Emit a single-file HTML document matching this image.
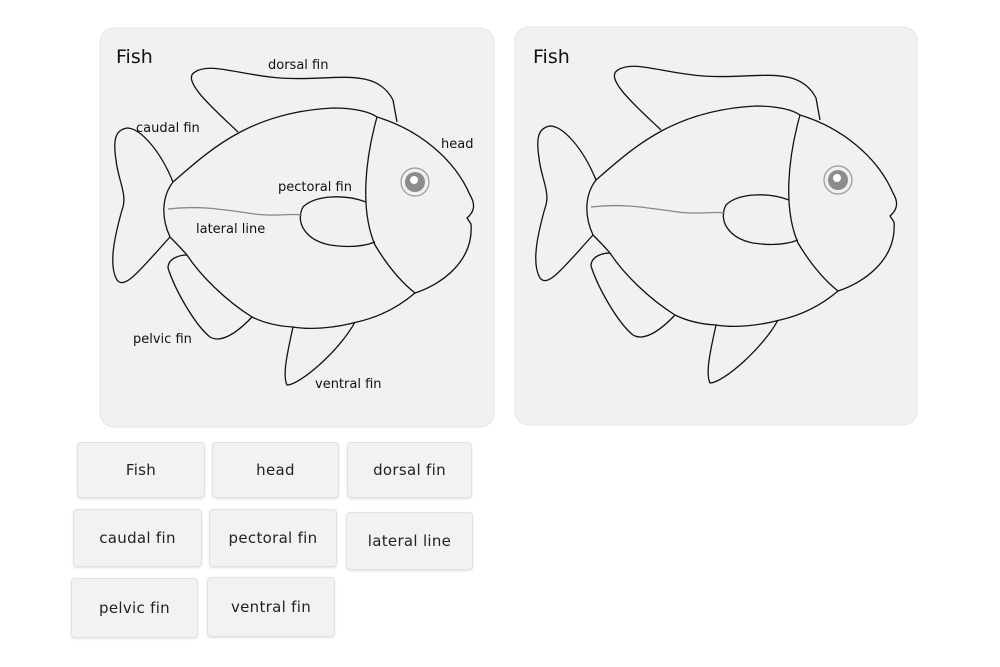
<!DOCTYPE html>
<html><head><meta charset="utf-8"><style>
body{margin:0;background:#fff;width:1000px;height:667px;overflow:hidden;position:relative;font-family:"DejaVu Sans","Liberation Sans",sans-serif}
.card{position:absolute;background:#f2f2f2;border:1px solid #e2e2e2;border-radius:4px;box-shadow:0 1px 2px rgba(0,0,0,.12);display:flex;align-items:center;justify-content:center;font-size:15px;color:#222;letter-spacing:.3px}
svg{position:absolute;left:0;top:0}
</style></head><body>
<svg width="1000" height="667" viewBox="0 0 1000 667">
<defs>
<g id="fish" fill="none" stroke="#111" stroke-width="1.3">
<path d="M238,132 C215,110 180,80 195,72 C210,62 240,75 280,78 C330,82 375,65 393,100 L397,122"/>
<path d="M173,182 C210,150 250,112 333,108 C355,108 370,112 377,117 C420,130 455,160 470,195 C476,205 474,212 467,218 L471,224 C474,262 440,285 415,293 C395,310 375,318 357,322 C335,328 310,330 293,327 C275,326 262,322 252,317 C225,300 200,275 187,255 C180,247 175,242 170,237 C160,215 163,195 173,182 Z"/>
<path d="M173,182 C160,150 140,128 127,128 C115,130 113,140 116,160 C118,180 128,195 122,210 C115,235 108,265 117,280 C125,290 140,270 170,237"/>
<path d="M187,255 C180,255 168,258 168,268 C175,290 195,325 210,337 C220,343 235,335 252,317"/>
<path d="M293,327 C288,350 282,375 287,385 C300,385 340,350 355,322"/>
<path d="M377,117 C365,160 360,210 375,245 C390,270 405,285 415,293"/>
<path d="M366,202 C345,194 315,195 303,207 C295,222 305,240 330,245 C350,248 365,246 375,242"/>
<path d="M168,209 C200,205 225,210 255,214 C275,217 290,213 302,215" stroke="#888"/>
<circle cx="415" cy="182" r="14" stroke="#999" stroke-width="1.2"/>
<circle cx="415" cy="182" r="10" fill="#8c8c8c" stroke="none"/>
<circle cx="414" cy="180" r="4" fill="#fff" stroke="none"/>
</g>
</defs>
<rect x="100" y="28" width="394" height="399" rx="14" fill="#f1f1f1" stroke="#e6e6e6"/>
<rect x="515" y="27" width="402" height="398" rx="14" fill="#f1f1f1" stroke="#e6e6e6"/>
<use href="#fish"/>
<use href="#fish" transform="translate(423,-2)"/>
<g font-family="DejaVu Sans, Liberation Sans, sans-serif" fill="#111">
<text x="116" y="63" font-size="19">Fish</text>
<text x="533" y="63" font-size="19">Fish</text>
<g font-size="13">
<text x="268" y="69">dorsal fin</text>
<text x="136" y="132">caudal fin</text>
<text x="441" y="148">head</text>
<text x="278" y="191">pectoral fin</text>
<text x="196" y="233">lateral line</text>
<text x="133" y="343">pelvic fin</text>
<text x="315" y="388">ventral fin</text>
</g></g>
</svg>
<div class="card" style="left:77px;top:442px;width:126px;height:54px">Fish</div>
<div class="card" style="left:212px;top:442px;width:125px;height:54px">head</div>
<div class="card" style="left:347px;top:442px;width:123px;height:54px">dorsal fin</div>
<div class="card" style="left:73px;top:509px;width:127px;height:56px">caudal fin</div>
<div class="card" style="left:209px;top:509px;width:126px;height:56px">pectoral fin</div>
<div class="card" style="left:346px;top:512px;width:125px;height:56px">lateral line</div>
<div class="card" style="left:71px;top:578px;width:125px;height:58px">pelvic fin</div>
<div class="card" style="left:207px;top:577px;width:126px;height:58px">ventral fin</div>
</body></html>
